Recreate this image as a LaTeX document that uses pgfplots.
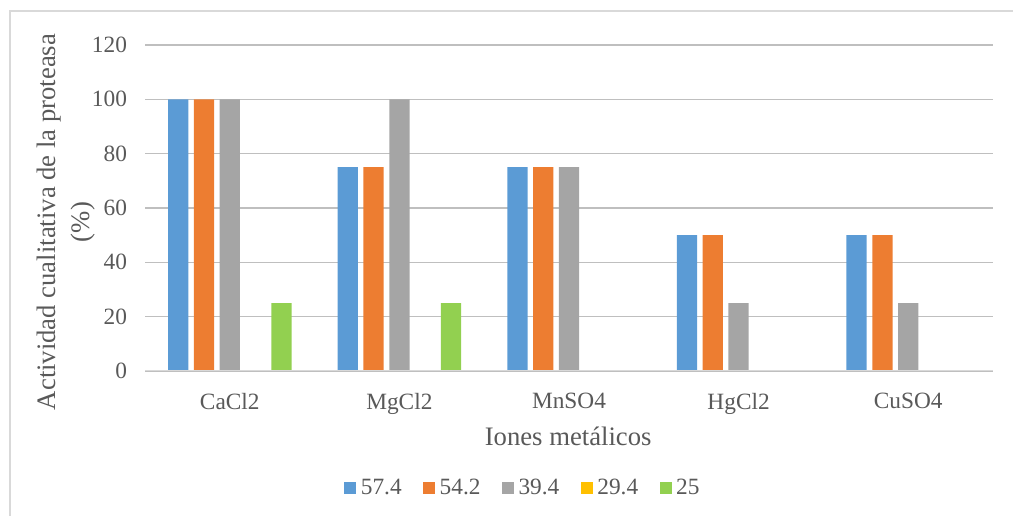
\documentclass[border=0pt]{standalone}
\usepackage{fontspec}
\setmainfont{Liberation Serif}
\usepackage{pgfplots}
\pgfplotsset{compat=1.18}
\definecolor{cblue}{HTML}{5B9BD5}
\definecolor{corange}{HTML}{ED7D31}
\definecolor{cgray}{HTML}{A5A5A5}
\definecolor{cyellow}{HTML}{FFC000}
\definecolor{cgreen}{HTML}{92D050}
\definecolor{grid}{HTML}{D9D9D9}
\definecolor{txt}{HTML}{595959}
\begin{document}
\begin{tikzpicture}
\useasboundingbox (0,0) rectangle (759.75pt,387pt);
\draw[grid, line width=1.2pt] (7.5pt,-5pt) -- (7.5pt,378.75pt) -- (770pt,378.75pt);
\begin{axis}[
  at={(108.75pt,108.75pt)}, anchor=south west,
  scale only axis, width=636pt, height=244.5pt,
  ybar=4.15pt, bar width=15.2pt,
  xmin=-0.5, xmax=4.5, ymin=0, ymax=120,
  ytick={0,20,...,120},
  xtick={0,1,2,3,4},
  xticklabels={CaCl2,MgCl2,MnSO4,HgCl2,CuSO4},
  /pgf/number format/assume math mode=true,
  font=\fontsize{20}{25}\selectfont,
  tick label style={txt},
  xticklabel style={yshift=-13pt, font=\fontsize{17.5}{21}\selectfont},
  yticklabel style={xshift=-10pt, font=\fontsize{17.5}{21}\selectfont},
  major tick length=0pt,
  tick style={draw=none},
  axis line style={draw=none},
  ymajorgrids, xmajorgrids=false, grid style={grid, line width=0.9pt},
  ylabel={Actividad cualitativa de la proteasa\\(\%)},
  ylabel style={align=center, txt, font=\fontsize{20}{25.5}\selectfont, at={(axis description cs:-0.093,0.457)}, anchor=center, rotate=0},
  xlabel={Iones metálicos},
  xlabel style={txt, font=\fontsize{20}{25}\selectfont, at={(axis description cs:0.499,-0.20)}, anchor=center},
  legend columns=5,
  legend style={draw=none, fill=none, at={(axis description cs:0.446,-0.359)}, anchor=center,
    font=\fontsize{17.5}{21}\selectfont, text=txt,
    /tikz/every even column/.append style={column sep=14pt},
    /tikz/every odd column/.append style={column sep=1.5pt}},
  legend image code/.code={\fill[#1] (0pt,-4.5pt) rectangle (9pt,4.5pt);},
]
\addplot[fill=cblue, draw=none] coordinates {(0,100) (1,75) (2,75) (3,50) (4,50)};
\addplot[fill=corange, draw=none] coordinates {(0,100) (1,75) (2,75) (3,50) (4,50)};
\addplot[fill=cgray, draw=none] coordinates {(0,100) (1,100) (2,75) (3,25) (4,25)};
\addplot[fill=cyellow, draw=none] coordinates {(0,0) (1,0) (2,0) (3,0) (4,0)};
\addplot[fill=cgreen, draw=none] coordinates {(0,25) (1,25) (2,0) (3,0) (4,0)};
\legend{57.4,54.2,39.4,29.4,25}
\draw[grid, line width=1.2pt] (axis cs:-0.5,0) -- (axis cs:4.5,0);
\end{axis}
\end{tikzpicture}
\end{document}
